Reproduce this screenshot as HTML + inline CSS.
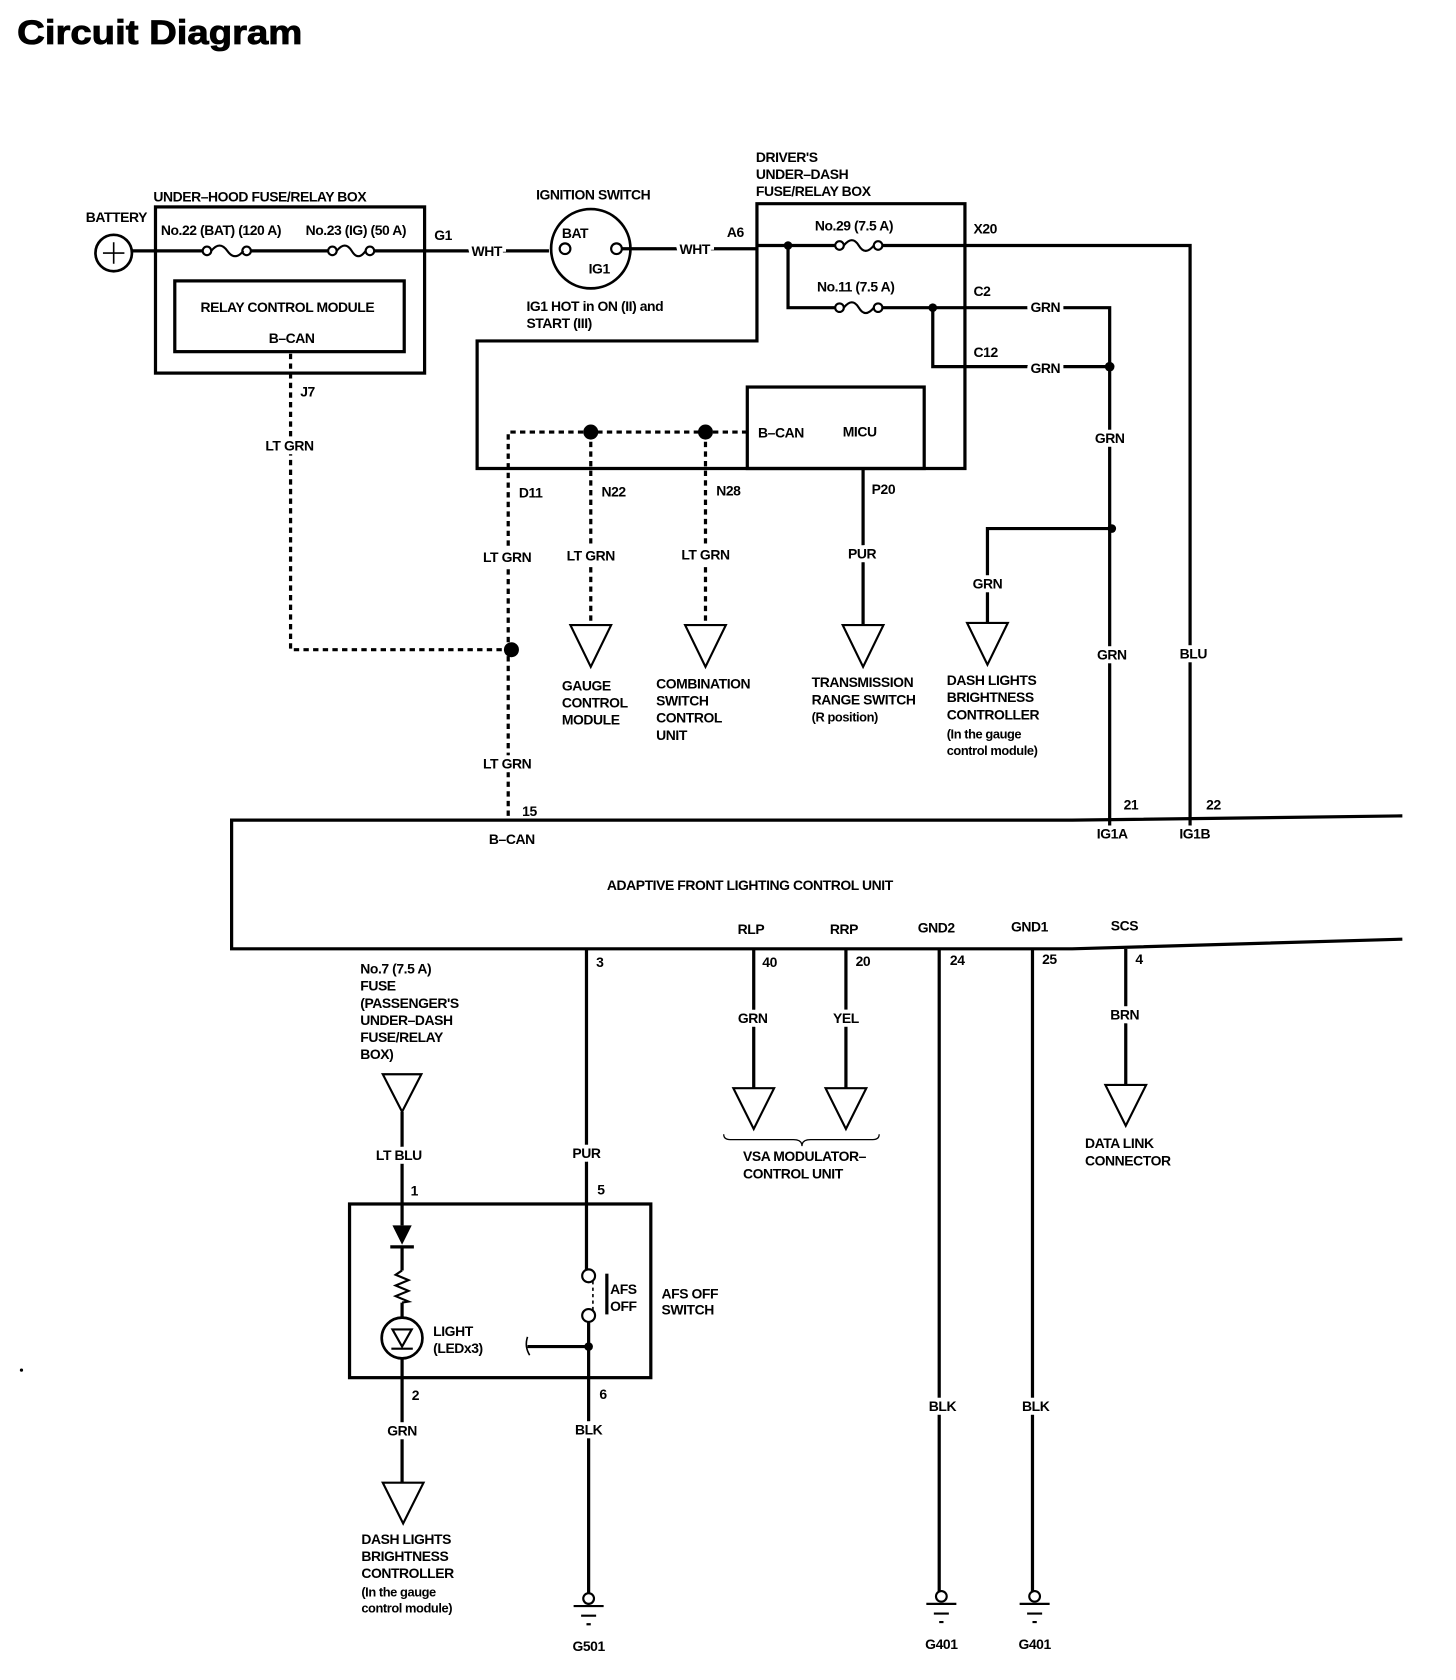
<!DOCTYPE html>
<html><head><meta charset="utf-8"><style>
html,body{margin:0;padding:0;background:#fff;}
svg{display:block;}
text{font-family:"Liberation Sans Narrow","Liberation Sans",sans-serif;font-weight:bold;font-size:13px;fill:#000;letter-spacing:-0.4px;}
.w{stroke:#fff;stroke-width:7px;paint-order:stroke;}
.c{text-anchor:middle;}
</style></head><body>
<svg width="1456" height="1680" viewBox="0 0 1358 1567" xmlns="http://www.w3.org/2000/svg">
<text x="16" y="41" textLength="266" lengthAdjust="spacingAndGlyphs" style="font-family:'Liberation Sans',sans-serif;font-size:32px;letter-spacing:0;stroke:#000;stroke-width:0.8px">Circuit Diagram</text>
<g fill="none" stroke="#000" stroke-width="3">
<circle cx="106" cy="236" r="17" stroke-width="2.5"/>
<path d="M96 236h20M106 226v20" stroke-width="1.5"/>
<rect x="145" y="193" width="251" height="155"/>
<rect x="163" y="262" width="214" height="66"/>
<path d="M123 234H190M233 234H307M348 234H512"/>
<g stroke-width="2">
<circle cx="193" cy="234" r="4" fill="#fff"/><circle cx="230" cy="234" r="4" fill="#fff"/><path d="M197 234q8-10 15 0t15 0"/>
<circle cx="310" cy="234" r="4" fill="#fff"/><circle cx="345" cy="234" r="4" fill="#fff"/><path d="M314 234q8-10 14 0t13 0"/>
<circle cx="783" cy="229" r="4" fill="#fff"/><circle cx="819" cy="229" r="4" fill="#fff"/><path d="M787 229q8-10 14 0t14 0"/>
<circle cx="783" cy="287" r="4" fill="#fff"/><circle cx="819" cy="287" r="4" fill="#fff"/><path d="M787 287q8-10 14 0t14 0"/>
</g>
<circle cx="551" cy="232" r="37" stroke-width="2.5"/>
<circle cx="527" cy="232" r="5" stroke-width="2" fill="#fff"/><circle cx="575" cy="232" r="5" stroke-width="2" fill="#fff"/>
<path d="M580 232H706"/>
<path d="M706 190H900V437H445V318H706Z"/>
<rect x="697" y="361" width="165" height="76"/>
<path d="M706 229H779M823 229H1110V770"/>
<path d="M735 229V287H779M823 287H1035V770"/>
<path d="M870 287V342H1035"/>
<path d="M1037 493H921V582"/>
<path d="M805 437V582"/>
<path d="M697 403H474V765M551 403V583M658 403V583M271 330V606H477" stroke-dasharray="5 4"/>
<g stroke-width="2">
<path d="M532 583h38l-19 39z"/><path d="M639 583h38l-19 39z"/><path d="M786 583h38l-19 39z"/><path d="M902 581h38l-19 39z"/>
<path d="M684 1015h38l-19 38z"/><path d="M770 1015h38l-19 38z"/><path d="M1031 1012h38l-19 38z"/>
<path d="M357 1002h36l-18 35z"/><path d="M357 1383h38l-19 38z"/>
</g>
<path d="M1308 761L1000 765H216V885H1000L1308 876"/>
<path d="M547 885V1184M703 885V1015M789 885V1015M876 885V1488M963 885V1488M1050 885V1012"/>
<path d="M675 1058q0 5 6 5H740q8 0 8 6q0-6 8-6H814q6 0 6-5" stroke-width="1.2"/>
<path d="M375 1037V1143M375 1163V1185M375 1215V1229M375 1267V1383"/>
<rect x="326" y="1123" width="281" height="162"/>
<path d="M364 1163h22" />
<path d="M375 1185l-6 4 12 5-12 5 12 5-12 5 12 5-6 1" stroke-width="2"/>
<circle cx="375" cy="1248" r="19" stroke-width="2.5"/>
<path d="M366 1240h18l-9 16z M365 1258h20" stroke-width="2"/>
<path d="M549 1233V1486M549 1256H492" />
<path d="M492 1247q-3 9 2 17" stroke-width="1.5"/>
<circle cx="549" cy="1190" r="6" stroke-width="2" fill="#fff"/><circle cx="549" cy="1227" r="6" stroke-width="2" fill="#fff"/>
<path d="M553 1195V1222" stroke-width="1.5" stroke-dasharray="3 3"/>
<path d="M566 1188V1226"/>
<g stroke-width="2">
<circle cx="549" cy="1491" r="5" fill="#fff"/><path d="M535 1498h28M542 1507h14M547 1515h4"/>
<circle cx="878" cy="1489" r="5" fill="#fff"/><path d="M864 1496h28M871 1505h14M876 1513h4"/>
<circle cx="965" cy="1489" r="5" fill="#fff"/><path d="M951 1496h28M958 1505h14M963 1513h4"/>
</g>
</g>
<g fill="#000">
<circle cx="735" cy="229" r="4"/><circle cx="870" cy="287" r="4"/><circle cx="1035" cy="342" r="4.5"/><circle cx="1037" cy="493" r="4"/>
<circle cx="551" cy="403" r="7"/><circle cx="658" cy="403" r="7"/><circle cx="477" cy="606" r="7"/>
<circle cx="549" cy="1256" r="4"/>
<path d="M366 1143h18l-9 18z"/>
<circle cx="20" cy="1278" r="1.5"/>
</g>
<text x="80" y="207">BATTERY</text>
<text x="143" y="188">UNDER–HOOD FUSE/RELAY BOX</text>
<text x="150" y="219">No.22 (BAT) (120 A)</text>
<text x="285" y="219">No.23 (IG) (50 A)</text>
<text x="405" y="224">G1</text>
<text x="454" y="239" class="c w">WHT</text>
<text x="268" y="291" class="c">RELAY CONTROL MODULE</text>
<text x="272" y="320" class="c">B–CAN</text>
<text x="280" y="370">J7</text>
<text x="270" y="420" class="c w">LT GRN</text>
<text x="500" y="186">IGNITION SWITCH</text>
<text x="524" y="222">BAT</text>
<text x="549" y="255">IG1</text>
<text x="491" y="290">IG1 HOT in ON (II) and</text>
<text x="491" y="306">START (III)</text>
<text x="648" y="237" class="c w">WHT</text>
<text x="678" y="221">A6</text>
<text x="705" y="151">DRIVER'S</text>
<text x="705" y="167">UNDER–DASH</text>
<text x="705" y="183">FUSE/RELAY BOX</text>
<text x="760" y="215">No.29 (7.5 A)</text>
<text x="908" y="218">X20</text>
<text x="762" y="272">No.11 (7.5 A)</text>
<text x="908" y="276">C2</text>
<text x="975" y="291" class="c w">GRN</text>
<text x="908" y="333">C12</text>
<text x="975" y="348" class="c w">GRN</text>
<text x="1035" y="413" class="c w">GRN</text>
<text x="707" y="408">B–CAN</text>
<text x="786" y="407">MICU</text>
<text x="484" y="464">D11</text>
<text x="561" y="463">N22</text>
<text x="668" y="462">N28</text>
<text x="813" y="461">P20</text>
<text x="473" y="524" class="c w">LT GRN</text>
<text x="551" y="523" class="c w">LT GRN</text>
<text x="658" y="522" class="c w">LT GRN</text>
<text x="804" y="521" class="c w">PUR</text>
<text x="921" y="549" class="c w">GRN</text>
<text x="1037" y="615" class="c w">GRN</text>
<text x="1113" y="614" class="c w">BLU</text>
<text x="473" y="717" class="c w">LT GRN</text>
<text x="524" y="644">GAUGE</text><text x="524" y="660">CONTROL</text><text x="524" y="676">MODULE</text>
<text x="612" y="642">COMBINATION</text><text x="612" y="658">SWITCH</text><text x="612" y="674">CONTROL</text><text x="612" y="690">UNIT</text>
<text x="757" y="641">TRANSMISSION</text><text x="757" y="657">RANGE SWITCH</text><text x="757" y="673" style="font-size:12px">(R position)</text>
<text x="883" y="639">DASH LIGHTS</text><text x="883" y="655">BRIGHTNESS</text><text x="883" y="671">CONTROLLER</text><text x="883" y="689" style="font-size:12px">(In the gauge</text><text x="883" y="704" style="font-size:12px">control module)</text>
<text x="487" y="761">15</text>
<text x="1048" y="755">21</text>
<text x="1125" y="755">22</text>
<text x="456" y="787">B–CAN</text>
<text x="1023" y="782">IG1A</text>
<text x="1100" y="782">IG1B</text>
<text x="566" y="830">ADAPTIVE FRONT LIGHTING CONTROL UNIT</text>
<text x="688" y="871">RLP</text><text x="774" y="871">RRP</text><text x="856" y="870">GND2</text><text x="943" y="869">GND1</text><text x="1036" y="868">SCS</text>
<text x="556" y="902">3</text><text x="711" y="902">40</text><text x="798" y="901">20</text><text x="886" y="900">24</text><text x="972" y="899">25</text><text x="1059" y="899">4</text>
<text x="702" y="954" class="c w">GRN</text><text x="789" y="954" class="c w">YEL</text><text x="1049" y="951" class="c w">BRN</text>
<text x="693" y="1083">VSA MODULATOR–</text><text x="693" y="1099">CONTROL UNIT</text>
<text x="1012" y="1071">DATA LINK</text><text x="1012" y="1087">CONNECTOR</text>
<text x="336" y="908">No.7 (7.5 A)</text><text x="336" y="924">FUSE</text><text x="336" y="940">(PASSENGER'S</text><text x="336" y="956">UNDER–DASH</text><text x="336" y="972">FUSE/RELAY</text><text x="336" y="988">BOX)</text>
<text x="372" y="1082" class="c w">LT BLU</text>
<text x="547" y="1080" class="c w">PUR</text>
<text x="383" y="1115">1</text><text x="557" y="1114">5</text>
<text x="569" y="1207">AFS</text><text x="569" y="1223">OFF</text>
<text x="617" y="1211">AFS OFF</text><text x="617" y="1226">SWITCH</text>
<text x="404" y="1246">LIGHT</text><text x="404" y="1262">(LEDx3)</text>
<text x="384" y="1306">2</text><text x="559" y="1305">6</text>
<text x="375" y="1339" class="c w">GRN</text>
<text x="549" y="1338" class="c w">BLK</text>
<text x="879" y="1316" class="c w">BLK</text>
<text x="966" y="1316" class="c w">BLK</text>
<text x="337" y="1440">DASH LIGHTS</text><text x="337" y="1456">BRIGHTNESS</text><text x="337" y="1472">CONTROLLER</text><text x="337" y="1489" style="font-size:12px">(In the gauge</text><text x="337" y="1504" style="font-size:12px">control module)</text>
<text x="549" y="1540" class="c">G501</text>
<text x="878" y="1538" class="c">G401</text>
<text x="965" y="1538" class="c">G401</text>
</svg>
</body></html>
